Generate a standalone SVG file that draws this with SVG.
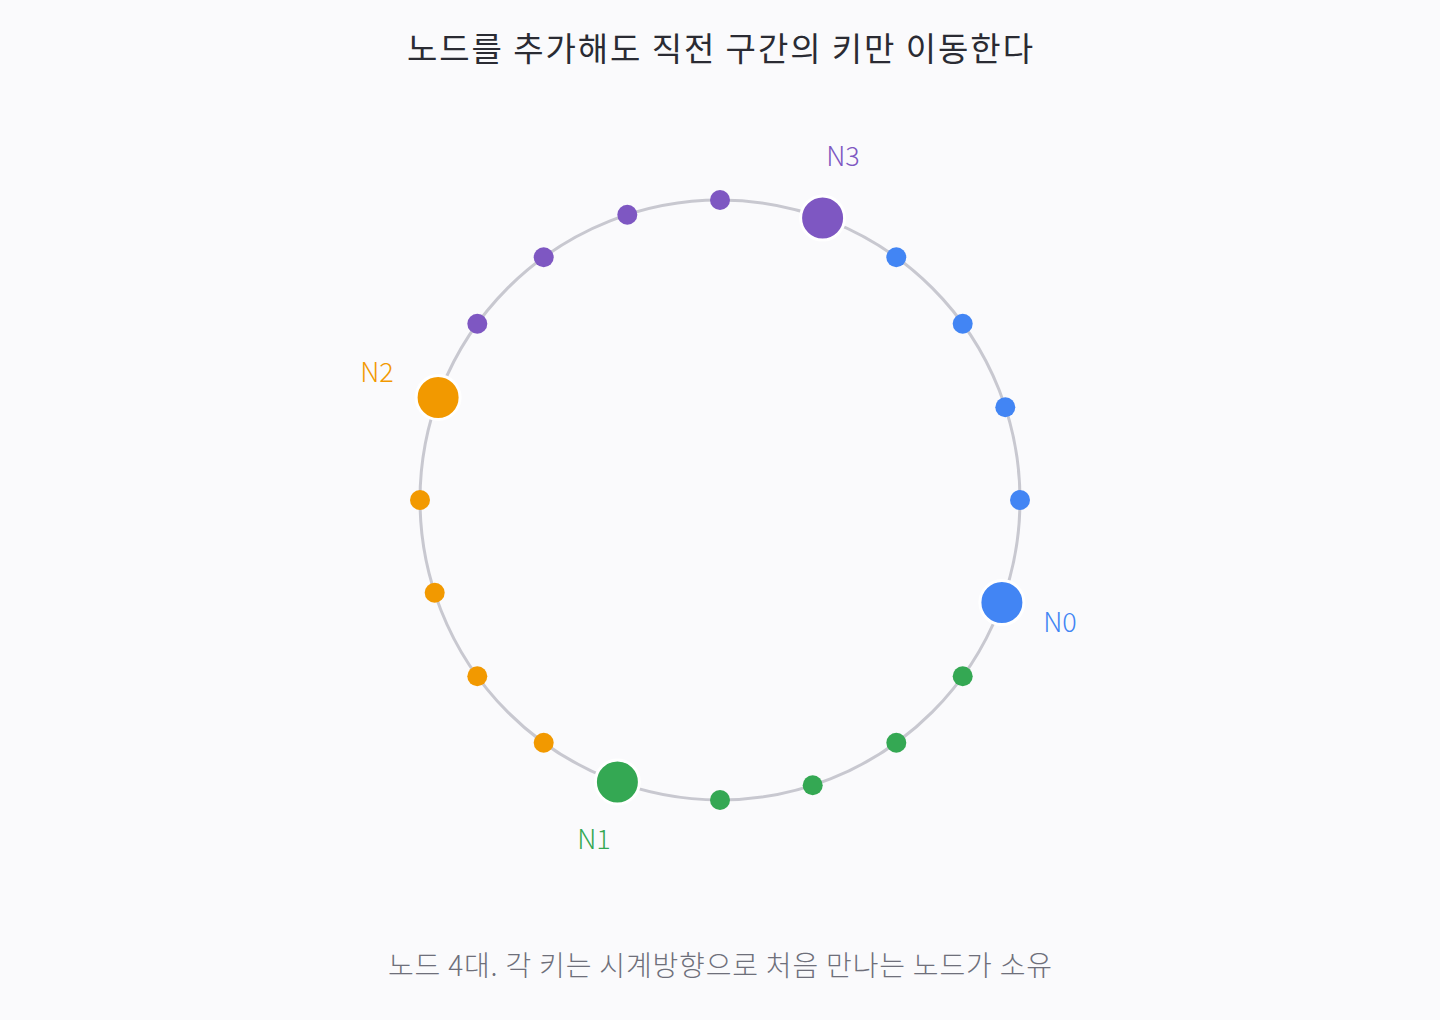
<svg xmlns="http://www.w3.org/2000/svg" width="1440" height="1020" viewBox="0 0 1440 1020">
<style>
text{font-family:"Noto Sans CJK KR","Noto Sans",sans-serif;font-weight:300}
.title{font-size:33px;fill:#2a2b33;font-weight:400}
.sub{font-size:28px;fill:#6e6f7a}
.lbl{font-size:27px}
.key{stroke:none}
.node{stroke:#ffffff;stroke-width:3}
.b{fill:#4285f4}.g{fill:#34a853}.o{fill:#f29900}.p{fill:#7e57c2}
</style>
<rect width="1440" height="1020" fill="#fafafc"/>
<text class="title" x="720" y="61" text-anchor="middle" textLength="626" lengthAdjust="spacing">노드를 추가해도 직전 구간의 키만 이동한다</text>
<g id="connectors">
<circle cx="720" cy="500" r="300" fill="none" stroke="#c8c8d0" stroke-width="3"/>
</g>
<g id="keys">
<circle class="key p" cx="720" cy="200" r="10"/>
<circle class="key p" cx="812.7" cy="214.7" r="10"/>
<circle class="key b" cx="896.3" cy="257.3" r="10"/>
<circle class="key b" cx="962.7" cy="323.7" r="10"/>
<circle class="key b" cx="1005.3" cy="407.3" r="10"/>
<circle class="key b" cx="1020" cy="500" r="10"/>
<circle class="key b" cx="1005.3" cy="592.7" r="10"/>
<circle class="key g" cx="962.7" cy="676.3" r="10"/>
<circle class="key g" cx="896.3" cy="742.7" r="10"/>
<circle class="key g" cx="812.7" cy="785.3" r="10"/>
<circle class="key g" cx="720" cy="800" r="10"/>
<circle class="key g" cx="627.3" cy="785.3" r="10"/>
<circle class="key o" cx="543.7" cy="742.7" r="10"/>
<circle class="key o" cx="477.3" cy="676.3" r="10"/>
<circle class="key o" cx="434.7" cy="592.7" r="10"/>
<circle class="key o" cx="420" cy="500" r="10"/>
<circle class="key o" cx="434.7" cy="407.3" r="10"/>
<circle class="key p" cx="477.3" cy="323.7" r="10"/>
<circle class="key p" cx="543.7" cy="257.3" r="10"/>
<circle class="key p" cx="627.3" cy="214.7" r="10"/>
</g>
<g id="N0">
<circle class="node b" cx="1001.9" cy="602.6" r="22"/>
<text class="lbl" x="1060" y="632" text-anchor="middle" fill="#4285f4">N0</text>
</g>
<g id="N1">
<circle class="node g" cx="617.4" cy="781.9" r="22"/>
<text class="lbl" x="594" y="849" text-anchor="middle" fill="#34a853">N1</text>
</g>
<g id="N2">
<circle class="node o" cx="438.1" cy="397.4" r="22"/>
<text class="lbl" x="377" y="382" text-anchor="middle" fill="#f29900">N2</text>
</g>
<g id="N3">
<circle class="node p" cx="822.6" cy="218.1" r="22"/>
<text class="lbl" x="843" y="166" text-anchor="middle" fill="#7e57c2">N3</text>
</g>
<text class="sub" x="720" y="976" text-anchor="middle" textLength="664" lengthAdjust="spacing">노드 4대. 각 키는 시계방향으로 처음 만나는 노드가 소유</text>
</svg>
